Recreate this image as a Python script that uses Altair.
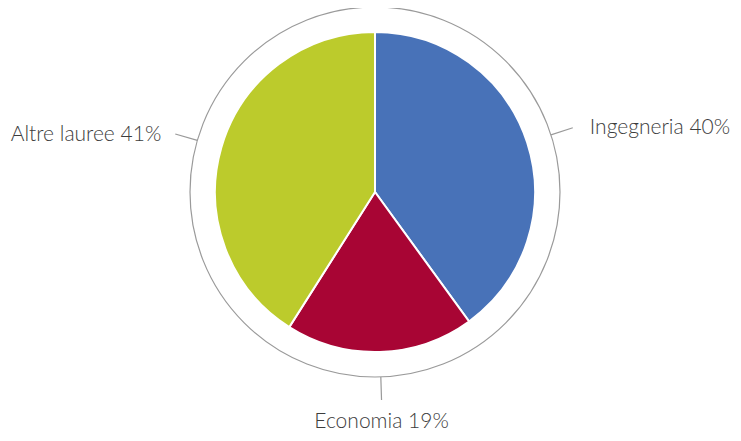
import altair as alt
import pandas as pd

categories = ["Ingegneria", "Economia", "Altre lauree"]
shares = [40, 19, 41]
colors = ["#4872B8", "#A80534", "#BCCB2C"]

df = pd.DataFrame({
    "cat": categories,
    "value": shares,
    "order": list(range(len(categories))),
    "cx": [0] * len(categories),
    "cy": [0] * len(categories),
})
center = pd.DataFrame({"cx": [0], "cy": [0]})

W, H = 725, 425
xs = alt.Scale(domain=[-367, W - 367], nice=False, zero=False)
ys = alt.Scale(domain=[184 - H, 184], nice=False, zero=False)
X = lambda f: alt.X(f, type="quantitative", scale=xs, axis=None)
Y = lambda f: alt.Y(f, type="quantitative", scale=ys, axis=None)

R_RING, R_END = 185, 208

base = alt.Chart(df)

ring = alt.Chart(center).mark_arc(
    radius=R_RING, theta=0, theta2=6.2832, fillOpacity=0,
    stroke="#9a9a9a", strokeWidth=1.2
).encode(x=X("cx"), y=Y("cy"))

pie = base.mark_arc(radius=160, stroke="white", strokeWidth=2).encode(
    theta=alt.Theta("value:Q", stack=True),
    order=alt.Order("order:Q"),
    color=alt.Color("cat:N", scale=alt.Scale(domain=categories, range=colors), legend=None),
    x=X("cx"), y=Y("cy"),
)

geo = base.transform_window(
    cum="sum(value)", sort=[alt.SortField("order")]
).transform_joinaggregate(total="sum(value)").transform_calculate(
    mid="(datum.cum - datum.value/2) / datum.total * 2 * PI",
).transform_calculate(
    s="sin(datum.mid)", c="cos(datum.mid)",
).transform_calculate(
    x1=f"{R_RING}*datum.s", y1=f"{R_RING}*datum.c",
    x2=f"{R_END}*datum.s", y2=f"{R_END}*datum.c",
    label="datum.cat + ' ' + datum.value + '%'",
    side="datum.s > 0.3 ? 'right' : (datum.s < -0.3 ? 'left' : 'bottom')",
)

leaders = geo.mark_rule(color="#9a9a9a", strokeWidth=1.2).encode(
    x=X("x1"), y=Y("y1"), x2="x2:Q", y2="y2:Q"
)

tstyle = dict(font="Lato", fontSize=21, fontWeight=300, color="#3c3c3c", baseline="alphabetic")
t_right = geo.transform_filter("datum.side == 'right'").mark_text(align="left", dx=17, dy=6, **tstyle).encode(
    x=X("x2"), y=Y("y2"), text="label:N")
t_left = geo.transform_filter("datum.side == 'left'").mark_text(align="right", dx=-14, dy=7, **tstyle).encode(
    x=X("x2"), y=Y("y2"), text="label:N")
t_bottom = geo.transform_filter("datum.side == 'bottom'").mark_text(align="center", dy=28, **tstyle).encode(
    x=X("x2"), y=Y("y2"), text="label:N")

chart = alt.layer(ring, pie, leaders, t_right, t_left, t_bottom).properties(
    width=W, height=H, autosize=alt.AutoSizeParams(type="none"), padding=0,
    background="white",
).configure_view(stroke=None)

chart.save("out.html", embed_options={"renderer": "svg", "actions": False})
